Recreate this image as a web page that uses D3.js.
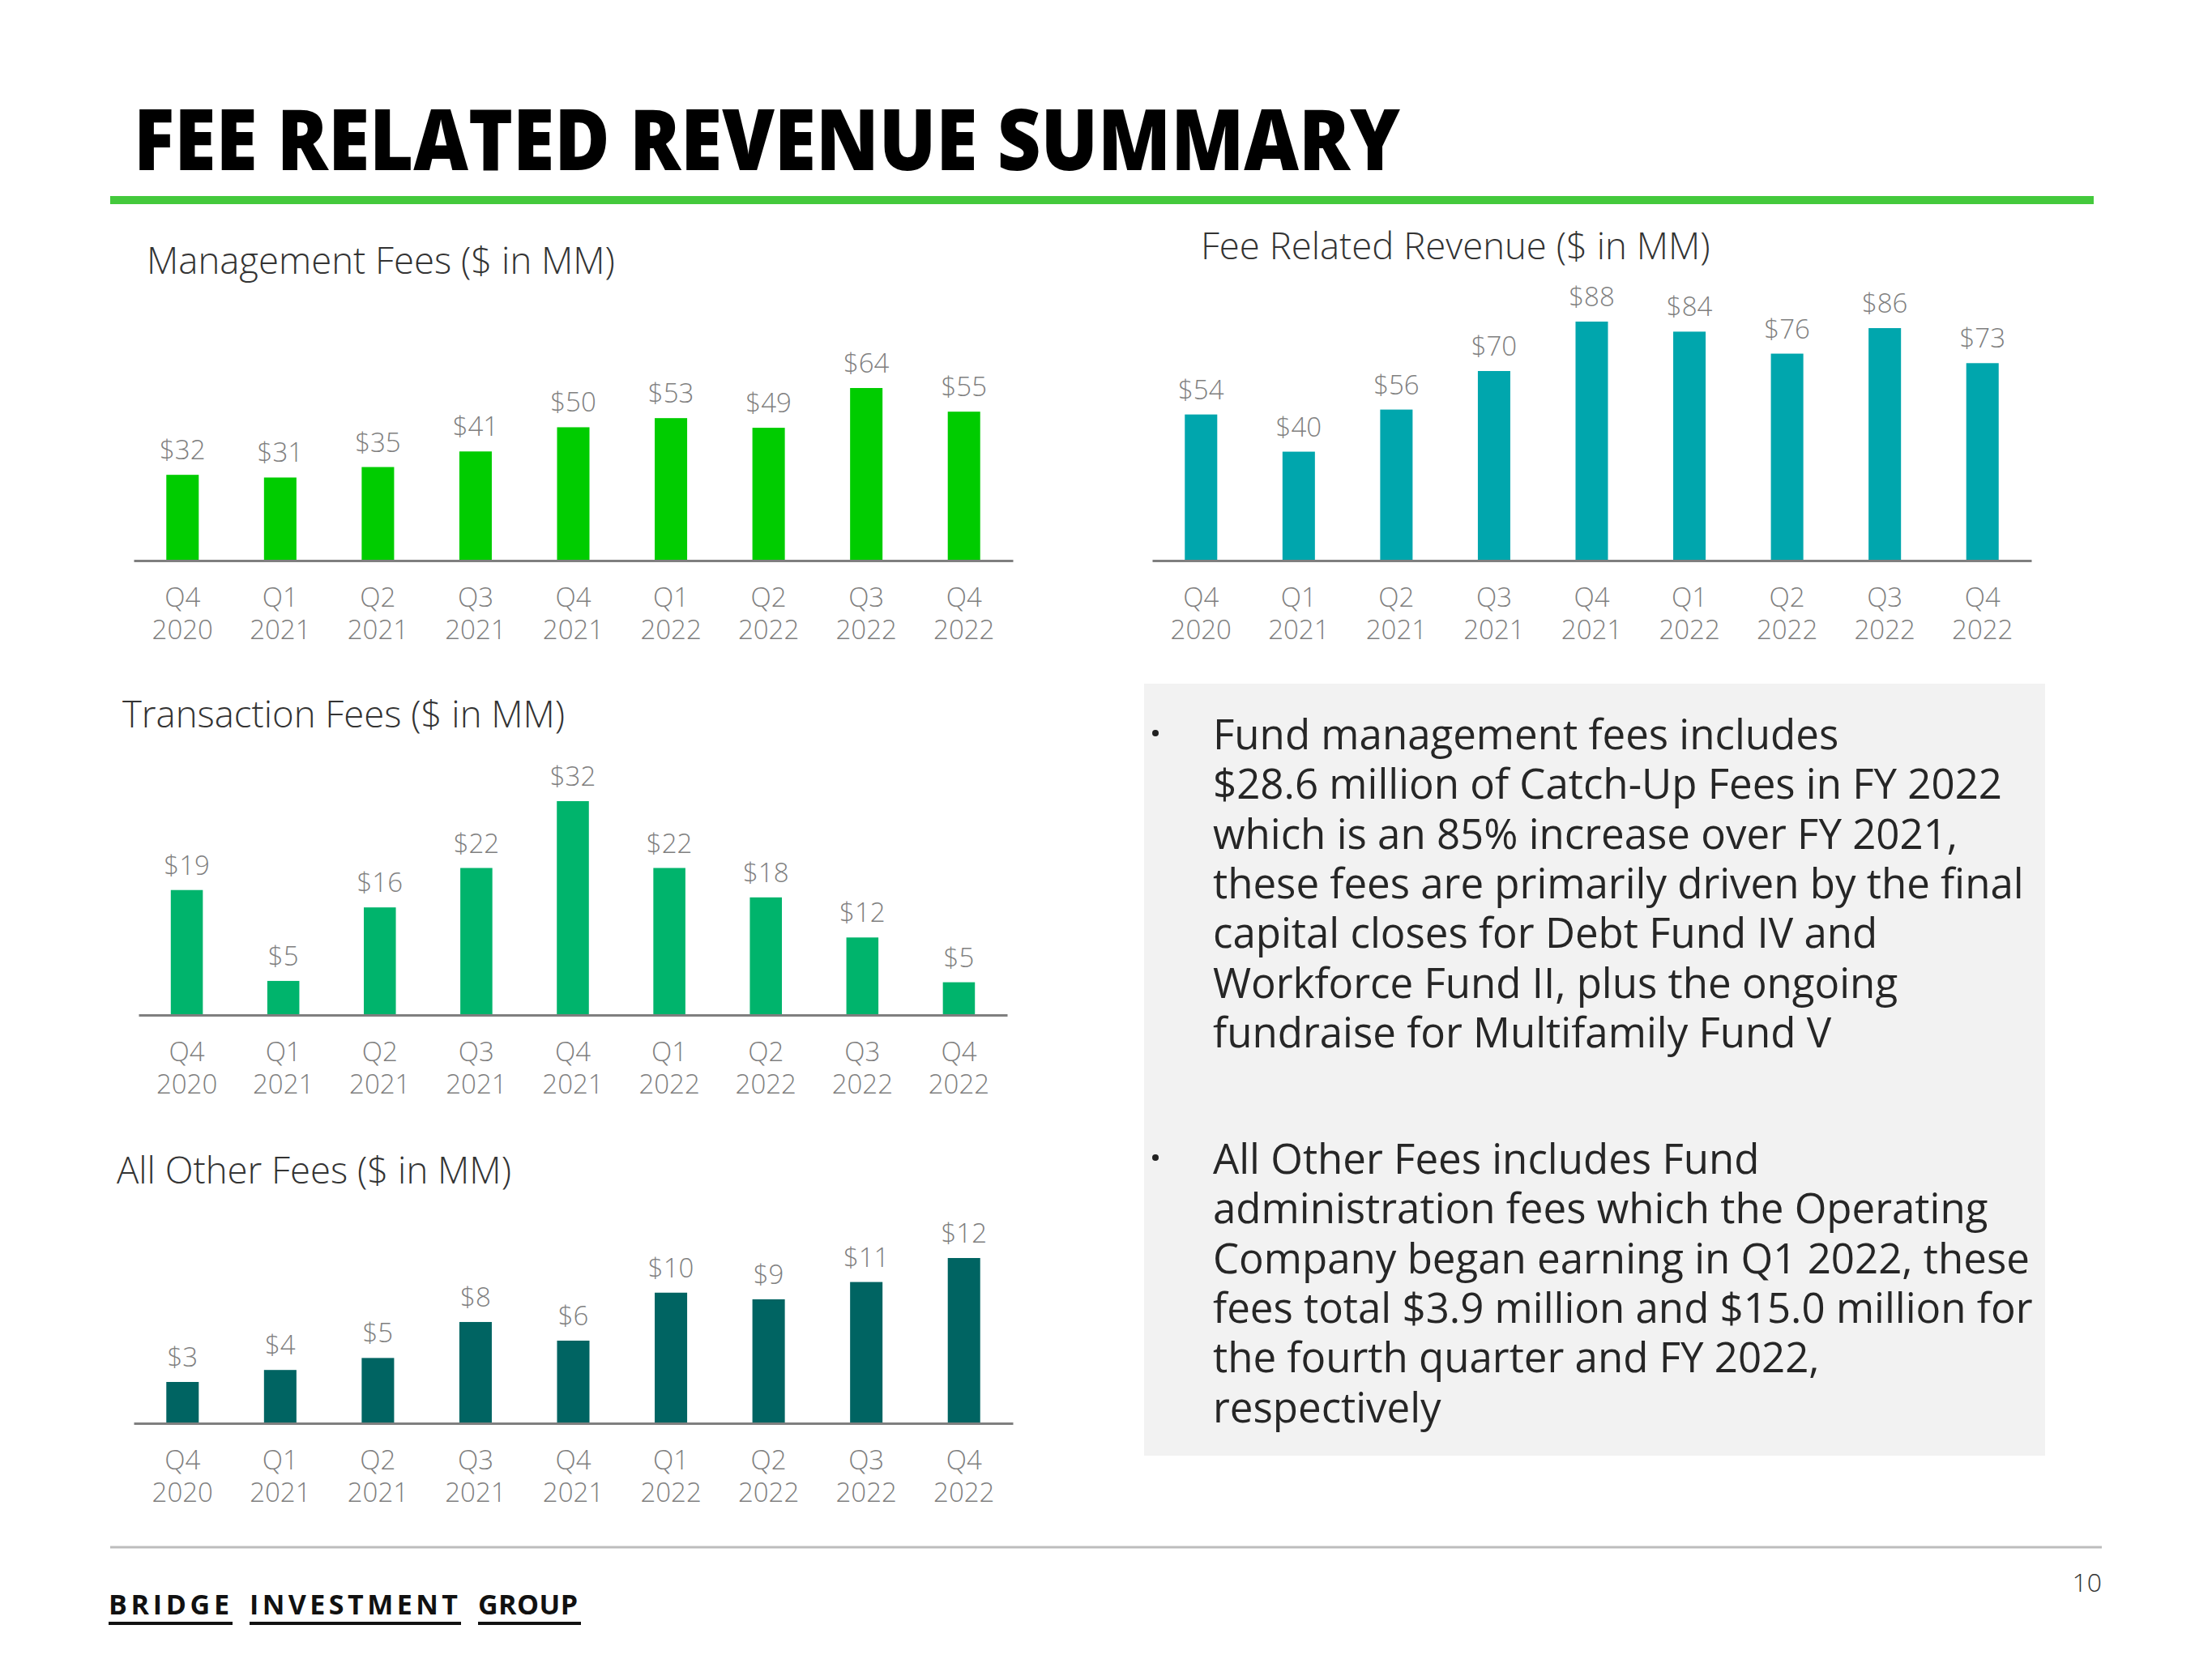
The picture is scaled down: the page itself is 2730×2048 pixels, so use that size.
<!DOCTYPE html>
<html><head><meta charset="utf-8">
<script src="https://cdn.jsdelivr.net/npm/d3@7"></script>
<style>
body{margin:0;background:#fff}
svg{display:block}
text{font-family:'Open Sans','Noto Sans',sans-serif}
</style>
</head><body>
<svg id="chart" width="2730" height="2048"></svg>
<script>
// ---------- DATA ----------
const quarters = ["Q4 2020","Q1 2021","Q2 2021","Q3 2021","Q4 2021","Q1 2022","Q2 2022","Q3 2022","Q4 2022"];
const managementFees   = [31.9, 30.9, 34.8, 40.6, 49.6, 53.0, 49.4, 64.2, 55.4];
const transactionFees  = [18.7, 5.1, 16.1, 22.0, 32.0, 22.0, 17.6, 11.6, 4.9];
const allOtherFees     = [3.1, 4.0, 4.9, 7.6, 6.2, 9.8, 9.3, 10.6, 12.4];
const feeRelatedRevenue= [53.8, 40.1, 55.6, 69.8, 88.0, 84.3, 76.2, 85.6, 72.7];

const chartTitles = ["Management Fees ($ in MM)","Transaction Fees ($ in MM)","All Other Fees ($ in MM)","Fee Related Revenue ($ in MM)"];

const bullet1 = ["Fund management fees includes",
 "$28.6 million of Catch-Up Fees in FY 2022",
 "which is an 85% increase over FY 2021,",
 "these fees are primarily driven by the final",
 "capital closes for Debt Fund IV and",
 "Workforce Fund II, plus the ongoing",
 "fundraise for Multifamily Fund V"];
const bullet2 = ["All Other Fees includes Fund",
 "administration fees which the Operating",
 "Company began earning in Q1 2022, these",
 "fees total $3.9 million and $15.0 million for",
 "the fourth quarter and FY 2022,",
 "respectively"];

// ---------- LAYOUT ----------
const svg = d3.select("#chart");

svg.append("text").attr("x",165).attr("y",210)
  .attr("font-size",104).attr("font-weight",800).attr("fill","#000")
  .attr("textLength",1563).attr("lengthAdjust","spacingAndGlyphs")
  .text("FEE RELATED REVENUE SUMMARY");
svg.append("rect").attr("x",136).attr("y",242).attr("width",2448).attr("height",10).attr("fill","#44c93c");

const charts = [
  {title:chartTitles[0], values:managementFees,   color:"#00cc00", x0:165,  x1:1250, axisY:692,  topY:479, tx:181,  ty:338},
  {title:chartTitles[1], values:transactionFees,  color:"#00b46c", x0:171,  x1:1243, axisY:1253, topY:989, tx:151,  ty:898},
  {title:chartTitles[2], values:allOtherFees,     color:"#006462", x0:165,  x1:1250, axisY:1757, topY:1553,tx:144,  ty:1461},
  {title:chartTitles[3], values:feeRelatedRevenue,color:"#00a6ad", x0:1422, x1:2507, axisY:692,  topY:397, tx:1482, ty:320}
];

charts.forEach(c => {
  const g = svg.append("g");
  g.append("text").attr("x",c.tx).attr("y",c.ty).attr("font-size",45.5).attr("font-weight",300)
    .attr("fill","#333").text(c.title);
  const x = d3.scaleBand().domain(quarters).range([c.x0,c.x1]).paddingInner(0.668).paddingOuter(0.334);
  const y = d3.scaleLinear().domain([0, d3.max(c.values)]).range([c.axisY, c.topY]);
  const data = quarters.map((q,i)=>({q, v:c.values[i]}));
  g.selectAll("rect.bar").data(data).join("rect").attr("class","bar")
    .attr("x",d=>x(d.q)).attr("width",x.bandwidth())
    .attr("y",d=>y(d.v)).attr("height",d=>c.axisY-y(d.v)).attr("fill",c.color);
  g.selectAll("text.val").data(data).join("text").attr("class","val")
    .attr("x",d=>x(d.q)+x.bandwidth()/2).attr("y",d=>y(d.v)-19)
    .attr("text-anchor","middle").attr("font-size",33).attr("font-weight",300).attr("fill","#7f7f7f")
    .text(d=>"$"+Math.round(d.v));
  const ax = g.append("g").attr("transform",`translate(0,${c.axisY})`)
    .call(d3.axisBottom(x).tickSize(0).tickSizeOuter(0).tickPadding(0));
  ax.select(".domain").attr("stroke","#7f7f7f").attr("stroke-width",3);
  ax.selectAll(".tick text").each(function(d){
    const t = d3.select(this);
    const parts = d.split(" ");
    t.text(null).attr("y",57).attr("dy",null).attr("font-size",33).attr("font-weight",300)
      .attr("fill","#7f7f7f").attr("font-family","'Open Sans',sans-serif");
    t.append("tspan").attr("x",0).text(parts[0]);
    t.append("tspan").attr("x",0).attr("dy",40).text(parts[1]);
  });
});

// Text box
svg.append("rect").attr("x",1412).attr("y",844).attr("width",1112).attr("height",953).attr("fill","#f2f2f2");
function bullet(lines, y0){
  svg.append("circle").attr("cx",1426).attr("cy",y0-20).attr("r",4).attr("fill","#222");
  const t = svg.append("text").attr("x",1497).attr("y",y0).attr("font-size",51).attr("fill","#262626");
  lines.forEach((l,i)=>t.append("tspan").attr("x",1497).attr("y",y0+i*61.3).text(l));
}
bullet(bullet1, 925);
bullet(bullet2, 1449);

// Footer
svg.append("line").attr("x1",136).attr("x2",2594).attr("y1",1910).attr("y2",1910).attr("stroke","#bdbdbd").attr("stroke-width",3);
[["BRIDGE",134,153],["INVESTMENT",308,261],["GROUP",590,127]].forEach(([w,x,len])=>{
  svg.append("text").attr("x",x).attr("y",1993).attr("font-family","'DejaVu Sans Mono',monospace")
    .attr("font-weight",700).attr("font-size",34).attr("fill","#111")
    .attr("textLength",len-4).attr("lengthAdjust","spacing").text(w);
  svg.append("rect").attr("x",x).attr("y",2002).attr("width",len).attr("height",4).attr("fill","#111");
});
svg.append("text").attr("x",2594).attr("y",1965).attr("text-anchor","end").attr("font-size",32)
  .attr("font-weight",300).attr("fill","#333").text("10");
</script>
</body></html>
